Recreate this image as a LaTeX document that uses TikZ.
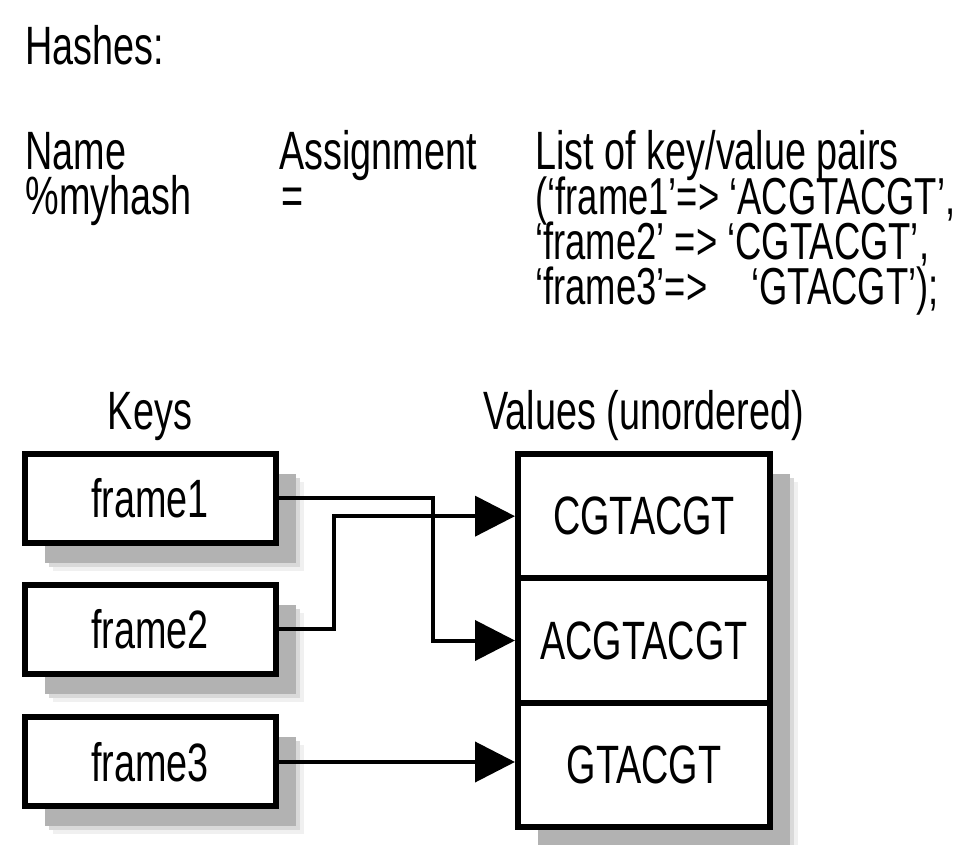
\documentclass[tikz,border=0pt]{standalone}
\usepackage{fontspec}
\setmainfont{Liberation Sans}[FakeStretch=0.7]
\usetikzlibrary{arrows.meta, positioning, shadows}

\begin{document}
\begin{tikzpicture}[x=0.5pt, y=-0.5pt]

\tikzset{every node/.style = {font=\fontsize{27}{32}\selectfont, inner sep=0pt}}
\tikzset{headtext/.style = {anchor=base west, text height=18.5pt, text depth=2pt}}
\tikzset{softshadow/.style = {general shadow={fill=black!6, shadow xshift=14pt, shadow yshift=-14pt},
  general shadow={fill=black!15, shadow xshift=12pt, shadow yshift=-12pt},
  general shadow={fill=black!30, shadow xshift=10pt, shadow yshift=-10pt}}}
\tikzset{keybox/.style = {draw, line width=3pt, fill=white, minimum width=125.5pt, minimum height=44.5pt, softshadow}}
\tikzset{cell/.style = {draw, line width=3pt, fill=white, outer sep=0pt, minimum width=126pt, minimum height=62.17pt}}
\tikzset{link/.style = {line width=2pt, shorten >=1.5pt, -{Triangle[length=20pt, width=20pt]}}}

\useasboundingbox (0,0) rectangle (966,845);

% header
\node[headtext] (title) at (25,65) {Hashes:};
\node[headtext] (name) at (25,170) {Name};
\node[headtext] (var) at (25,215) {\%myhash};
\node[headtext] (assign) at (279,170) {Assignment};
\node[headtext] (eq) at (281,215) {=};
\node[headtext] (pairs) at (535,170) {List of key/value pairs};
\node[headtext, font=\fontsize{26}{30}\selectfont] (pair1) at (535,215) {(`frame1'=> `ACGTACGT',};
\node[headtext, font=\fontsize{26}{30}\selectfont] (pair2) at (535,260) {`frame2' => `CGTACGT',};
\node[headtext, font=\fontsize{26}{30}\selectfont] (pair3) at (535,305) {`frame3'=>\hspace{22pt}`GTACGT');};

% keys
\node[anchor=base] (keys) at (150,430) {Keys};
\node[keybox] (k1) at (150,498.5) {frame1};
\node[keybox] (k2) at (150,629.5) {frame2};
\node[keybox] (k3) at (150,762) {frame3};

% values
\node[anchor=base west] (vallabel) at (483,430) {Values (unordered)};
\node[cell, softshadow, minimum height=186.5pt] (vals) at (644,640.5) {};
\node[cell, below=0pt of vals.north] (v1) {CGTACGT};
\node[cell, below=0pt of v1] (v2) {ACGTACGT};
\node[cell, below=0pt of v2] (v3) {GTACGT};

% links
\draw[link] (k1.east) -- ++(154,0) |- (v2.west);
\draw[link] (k2.east) -- ++(55,0) |- (v1.west);
\draw[link] (k3.east) -- (k3.east -| v3.west);
\end{tikzpicture}
\end{document}
